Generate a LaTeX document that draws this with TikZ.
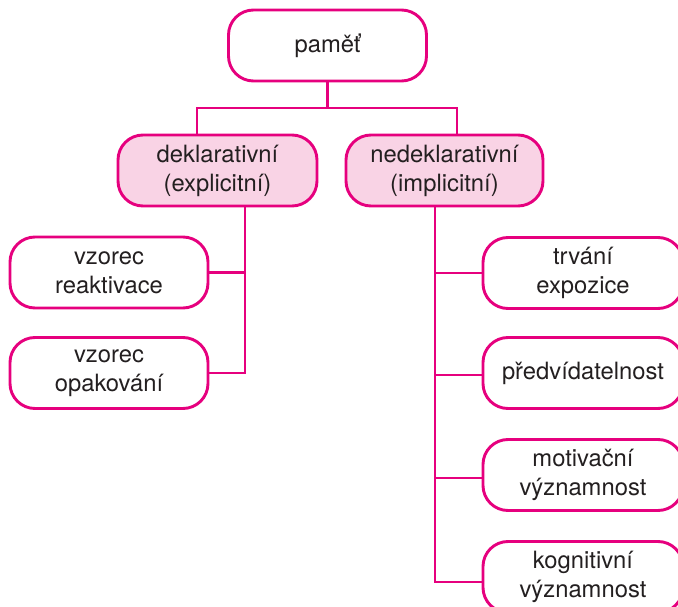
\documentclass[tikz,border=0pt]{standalone}
\usepackage{fontspec}
\setmainfont{TeX Gyre Heros}
\definecolor{mag}{RGB}{230,0,126}
\definecolor{pinkfill}{RGB}{249,211,229}
\definecolor{txt}{RGB}{35,31,32}
\tikzset{
  box/.style={draw=mag, line width=2.9pt, rounded corners=25pt, fill=white,
    minimum width=198pt, minimum height=71pt, align=center, text=txt,
    inner sep=2pt, font=\fontsize{23.8}{29}\selectfont},
  catbox/.style={box, fill=pinkfill},
  link/.style={draw=mag, line width=2.7pt}
}
\begin{document}
\begin{tikzpicture}[x=1pt,y=-1pt]
\useasboundingbox (0,0) rectangle (678,607);
\clip (0,0) rectangle (678,607);
\fill[white] (0,0) rectangle (678,607);
\coordinate (jL) at (197,108);
\coordinate (jR) at (457,108);
\coordinate (sL) at (245,0);
\coordinate (sR) at (435,0);
\node[box] (top) at (327.5,45.5) {paměť};
\node[catbox, minimum width=199pt] (dek) at (217.5,170.5) {deklarativní\\(explicitní)};
\node[catbox, minimum width=197pt] (ndek) at (444.5,170.5) {nedeklarativní\\(implicitní)};
\node[box] (reakt) at (109,272.5) {vzorec\\reaktivace};
\node[box] (opak) at (109,373) {vzorec\\opakování};
\node[box, minimum width=200pt] (trv) at (583,273) {trvání\\expozice};
\node[box, minimum width=200pt] (pred) at (583,373) {předvídatelnost};
\node[box, minimum width=200pt] (mot) at (583,475) {motivační\\významnost};
\node[box, minimum width=200pt] (kog) at (583,577) {kognitivní\\významnost};
\draw[link] (top.south) -- (top.south |- jL);
\draw[link] (jL |- dek.north) -- (jL) -- (jR) -- (jR |- ndek.north);
\draw[link] (sL |- dek.south) |- (opak.east);
\draw[link] (reakt.east) -- (reakt.east -| sL);
\draw[link] (sR |- ndek.south) |- ([yshift=-5pt]kog.west);
\draw[link] (trv.west) -- (trv.west -| sR);
\draw[link] ([yshift=-2pt]pred.west) -- ([yshift=-2pt]pred.west -| sR);
\draw[link] ([yshift=-3pt]mot.west) -- ([yshift=-3pt]mot.west -| sR);
\end{tikzpicture}
\end{document}
